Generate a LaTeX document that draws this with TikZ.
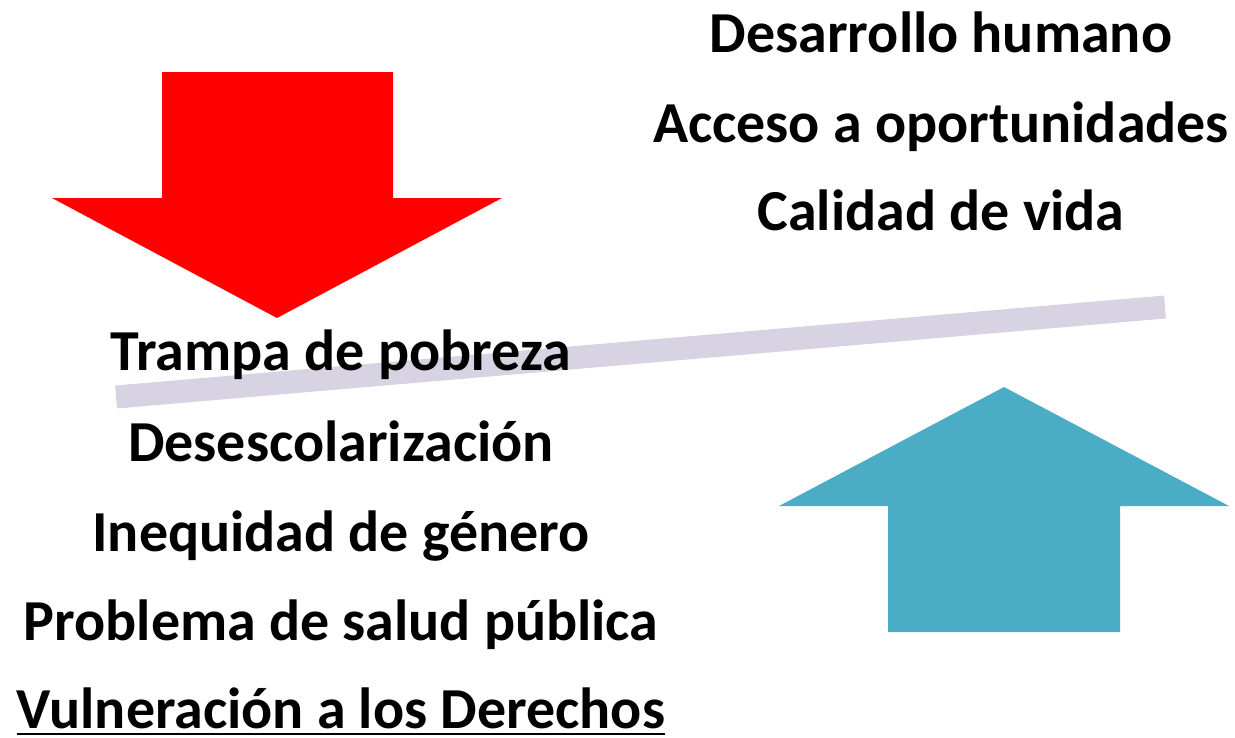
\documentclass[tikz,border=0pt]{standalone}
\usepackage{fontspec}
\setmainfont{Carlito}
\definecolor{bajaRed}{RGB}{255,0,0}
\definecolor{subeBlue}{RGB}{75,172,198}
\definecolor{barGray}{RGB}{216,211,226}
\begin{document}
\begin{tikzpicture}[x=1pt, y=-1pt,
    lbl/.style={font=\fontsize{58}{60}\selectfont\bfseries, anchor=base, inner sep=0pt}]
            \useasboundingbox (0,0) rectangle (1235,737);
            % Balance bar
            \coordinate (barL) at (116,397);
            \coordinate (barR) at (1165,307);
            \draw[barGray, line width=23pt] (barL) -- (barR);
            % Red arrow down
            \fill[bajaRed] (162,72) -- (393,72) -- (393,198) -- (502,198)
                -- (277,318) -- (52,198) -- (162,198) -- cycle;
            % Blue arrow up
            \fill[subeBlue] (888,632) -- (1120,632) -- (1120,506) -- (1229,506)
                -- (1004,387) -- (779,506) -- (888,506) -- cycle;
            % Right texts
            \node[lbl] (desarrollo) at (941,52) {Desarrollo humano};
            \node[lbl] (acceso) at (941,142) {Acceso a oportunidades};
            \node[lbl] (calidad) at (941,230) {Calidad de vida};
            % Left texts
            \node[lbl] (trampa) at (341,370) {Trampa de pobreza};
            \node[lbl] (desesc) at (341,461) {Desescolarización};
            \node[lbl] (inequidad) at (341,551) {Inequidad de género};
            \node[lbl] (salud) at (341,640) {Problema de salud pública};
            \node[lbl] (vulneracion) at (341,728) {Vulneración a los Derechos};
            \draw[line width=2pt] ([yshift=-6pt]vulneracion.base west) -- ([yshift=-6pt]vulneracion.base east);
        \end{tikzpicture}
\end{document}
